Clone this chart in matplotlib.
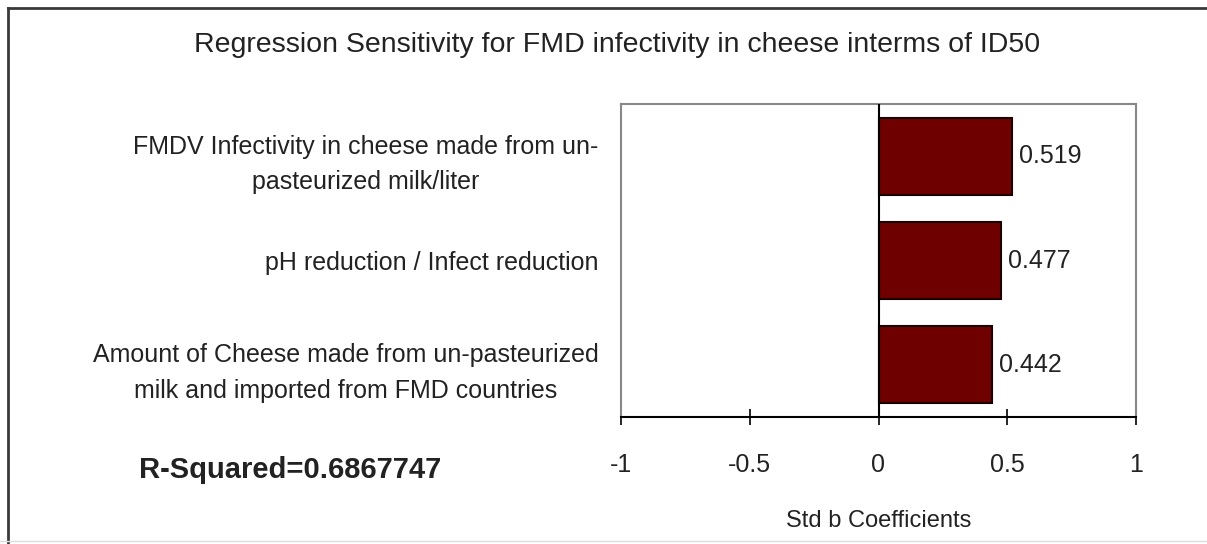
import matplotlib
matplotlib.use("Agg")
import matplotlib.pyplot as plt
from matplotlib.lines import Line2D

# Regression sensitivity data (standardised b coefficients)
factors = [
    "FMDV Infectivity in cheese made from un-\npasteurized milk/liter",
    "pH reduction / Infect reduction",
    "Amount of Cheese made from un-pasteurized\nmilk and imported from FMD countries",
]
coefficients = [0.519, 0.477, 0.442]
x_ticks = [-1, -0.5, 0, 0.5, 1]
x_tick_labels = ["-1", "-0.5", "0", "0.5", "1"]
r_squared = "R-Squared=0.6867747"
title = "Regression Sensitivity for FMD infectivity in cheese interms of ID50"
x_label = "Std b Coefficients"

plt.rcParams["font.family"] = ["Liberation Sans", "DejaVu Sans"]

W, H = 1207, 544
fig = plt.figure(figsize=(W / 100, H / 100), dpi=100)
fig.patch.set_facecolor("white")

# Plot area in pixel terms
left, right, top, bottom = 621, 1136, 104, 417
ax = fig.add_axes([left / W, 1 - bottom / H, (right - left) / W, (bottom - top) / H])

ypos = list(range(len(factors)))
ax.barh(ypos, coefficients, height=0.74, color="#6e0000", edgecolor="#1a0000",
        linewidth=1.5, zorder=3)
ax.set_ylim(len(factors) - 0.5, -0.5)
ax.set_xlim(-1, 1)

ax.axvline(0, color="black", linewidth=1.5, zorder=4)

for y, v in zip(ypos, coefficients):
    ax.annotate(f"{v:.3f}", xy=(v, y), xytext=(5, 0), textcoords="offset points",
                ha="left", va="center", fontsize=18, color="#222222")

ax.set_yticks(ypos)
ax.set_yticklabels(factors, fontsize=18, multialignment="center", color="#222222",
                   linespacing=1.6)
ax.tick_params(axis="y", length=0, pad=16)

ax.set_xticks(x_ticks)
ax.set_xticklabels(x_tick_labels, fontsize=18, color="#222222")
ax.tick_params(axis="x", direction="inout", length=12, width=1.2, pad=20, colors="black")
for lbl in ax.get_xticklabels():
    lbl.set_color("#222222")

for side in ("top", "left", "right"):
    ax.spines[side].set_color("#888888")
    ax.spines[side].set_linewidth(1.5)
ax.spines["bottom"].set_color("black")
ax.spines["bottom"].set_linewidth(1.5)

ax.set_xlabel(x_label, fontsize=17, color="#222222", labelpad=24)

fig.text(617 / W, 1 - 45 / H, title, ha="center", va="center", fontsize=20.5, color="#222222")
fig.text(290 / W, 1 - 470 / H, r_squared, ha="center", va="center", fontsize=21,
         fontweight="bold", color="#222222")

# Outer chart frame
fig.add_artist(Line2D([8 / W, 8 / W], [0, 1 - 8 / H], transform=fig.transFigure,
                      color="#3a3a3a", linewidth=2))
fig.add_artist(Line2D([8 / W, 1], [1 - 8 / H, 1 - 8 / H], transform=fig.transFigure,
                      color="#3a3a3a", linewidth=2))
fig.add_artist(Line2D([0, 1], [3 / H, 3 / H], transform=fig.transFigure,
                      color="#dddddd", linewidth=1))

fig.savefig("out.png", dpi=100)
